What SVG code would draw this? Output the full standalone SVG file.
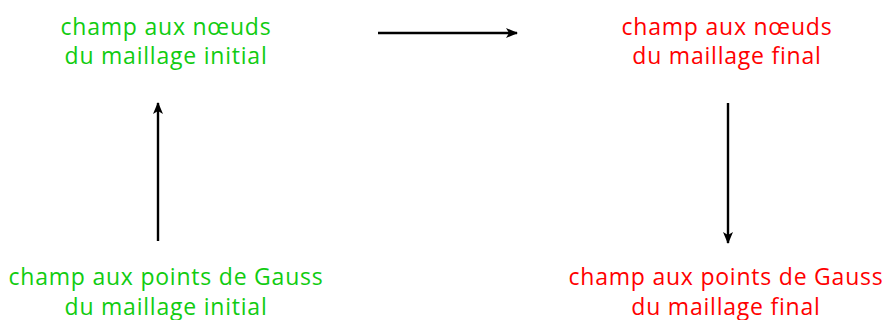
<svg xmlns="http://www.w3.org/2000/svg" width="885" height="320" viewBox="0 0 885 320">
<style>
text{font-family:"Open Sans","DejaVu Sans",sans-serif;font-size:23px;letter-spacing:0.78px;text-anchor:middle}
.g{fill:#11cc11}
.r{fill:#ff0000}
.c{stroke:#000;stroke-width:2.4;fill:none;marker-end:url(#ah)}
</style>
<defs>
<marker id="ah" viewBox="0 0 12 10" refX="11" refY="5" markerWidth="12" markerHeight="10" markerUnits="userSpaceOnUse" orient="auto">
<path d="M0,0 L12,5 L0,10 L3,5 Z" fill="#000"/>
</marker>
</defs>
<rect width="885" height="320" fill="#fff"/>
<g id="connectors">
<line class="c" x1="378" y1="33" x2="517" y2="33"/>
<line class="c" x1="158" y1="241" x2="158" y2="103"/>
<line class="c" x1="728" y1="103" x2="728" y2="243"/>
</g>
<g id="n1"><text class="g" x="166" y="35">champ aux nœuds</text><text class="g" x="166" y="64">du maillage initial</text></g>
<g id="n2"><text class="r" x="727" y="35">champ aux nœuds</text><text class="r" x="727" y="64">du maillage final</text></g>
<g id="n3"><text class="g" x="166" y="285">champ aux points de Gauss</text><text class="g" x="166" y="315">du maillage initial</text></g>
<g id="n4"><text class="r" x="726" y="285">champ aux points de Gauss</text><text class="r" x="726" y="315">du maillage final</text></g>
</svg>
